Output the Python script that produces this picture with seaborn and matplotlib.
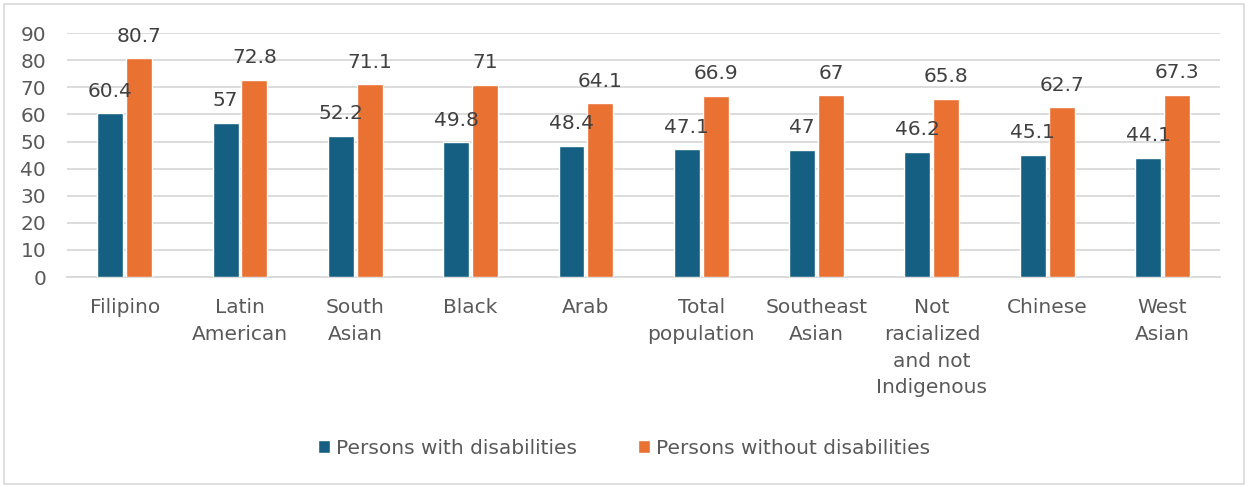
import pandas as pd
import matplotlib.pyplot as plt
import seaborn as sns
from matplotlib.patches import Rectangle

categories = ["Filipino", "Latin\nAmerican", "South\nAsian", "Black", "Arab",
              "Total\npopulation", "Southeast\nAsian",
              "Not\nracialized\nand not\nIndigenous", "Chinese", "West\nAsian"]
with_dis = [60.4, 57, 52.2, 49.8, 48.4, 47.1, 47, 46.2, 45.1, 44.1]
without_dis = [80.7, 72.8, 71.1, 71, 64.1, 66.9, 67, 65.8, 62.7, 67.3]
series = ["Persons with disabilities", "Persons without disabilities"]
colors = ["#156082", "#E97132"]

df = pd.DataFrame({
    "category": categories * 2,
    "value": with_dis + without_dis,
    "series": [series[0]] * len(categories) + [series[1]] * len(categories),
})

sns.set_style("white")
plt.rcParams['font.family'] = ['DejaVu Sans']
txt = "#595959"
fs = 14.5

fig = plt.figure(figsize=(12.48, 4.87), dpi=100)
ax = fig.add_axes([0.0537, 0.431, 0.924, 0.501])

sns.barplot(data=df, x="category", y="value", hue="series", palette=colors,
            width=0.5, gap=0.1, ax=ax, saturation=1, zorder=3)

for cont in ax.containers:
    labels = [f"{v:g}" for v in cont.datavalues]
    ax.bar_label(cont, labels=labels, padding=9, fontsize=fs, color="#404040")

ax.set_ylim(0, 90)
ax.set_yticks(range(0, 91, 10))
ax.set_xlim(-0.5, len(categories) - 0.5)
ax.yaxis.grid(True, color="#D9D9D9", linewidth=1.3, zorder=0)
ax.set_axisbelow(True)
for s in ["top", "right", "left"]:
    ax.spines[s].set_visible(False)
ax.spines["bottom"].set_color("#D9D9D9")
ax.spines["bottom"].set_linewidth(1.3)
ax.tick_params(axis="y", length=0, pad=15, labelsize=fs, labelcolor=txt)
ax.tick_params(axis="x", length=0, pad=15, labelsize=fs, labelcolor=txt)
for t in ax.get_xticklabels():
    t.set_linespacing(1.52)
    t.set_verticalalignment("top")
ax.set_xlabel("")
ax.set_ylabel("")

ax.legend(loc="center", bbox_to_anchor=(0.5, 0.08), bbox_transform=fig.transFigure,
          ncol=2, frameon=False, fontsize=fs, labelcolor=txt,
          handlelength=0.6, handleheight=0.6, handletextpad=0.3, columnspacing=3.0)

fig.patches.append(Rectangle((0.003, 0.006), 0.994, 0.986, transform=fig.transFigure,
                             fill=False, edgecolor="#D9D9D9", linewidth=1.2))

fig.savefig("out.png", dpi=100)
